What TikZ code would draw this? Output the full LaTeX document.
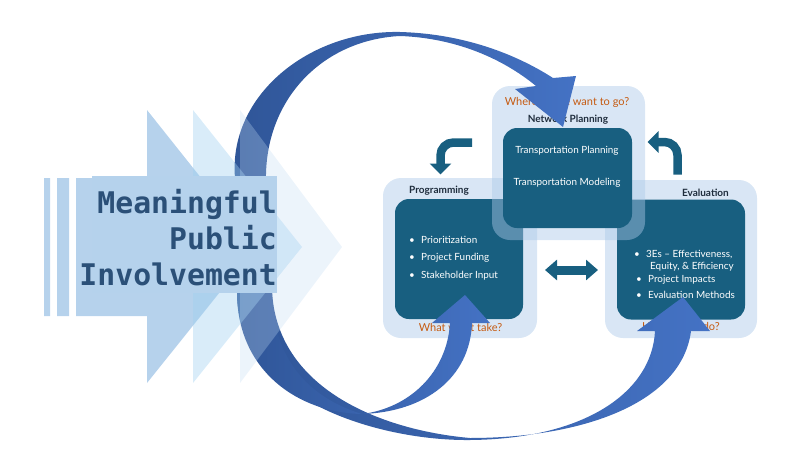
\documentclass[tikz,border=0pt]{standalone}
\usepackage{fontspec}
\setmainfont{Lato}
\newfontfamily\monofont{DejaVu Sans Mono}
\usetikzlibrary{arrows.meta}
\definecolor{boxteal}{HTML}{185F80}
\definecolor{boxlight}{HTML}{ABC8E8}
\definecolor{askorange}{HTML}{C55A11}
\definecolor{headink}{HTML}{1F2D3D}
\definecolor{ribdark}{HTML}{2F5597}
\definecolor{ribblue}{HTML}{4472C4}
\definecolor{chevA}{HTML}{9DC3E6}
\definecolor{chevB}{HTML}{9FD0F0}
\definecolor{chevC}{HTML}{C0DAF2}
\definecolor{mpibg}{HTML}{B5D2EC}
\definecolor{mpiink}{HTML}{2B5078}
\newcommand{\bul}{\makebox[12pt][l]{\textbullet}}
\begin{document}
\begin{tikzpicture}[x=1pt,y=-1pt]
  \tikzstyle{every node}=[font=\fontsize{9.9}{11}\selectfont, inner sep=0pt]
  \tikzstyle{outbox}=[fill=boxlight, fill opacity=0.45, rounded corners=18pt, minimum width=154pt, minimum height=160pt]
  \tikzstyle{inbox}=[fill=boxteal, rounded corners=14pt, minimum width=128pt, minimum height=120pt]
  \tikzstyle{head}=[font=\bfseries\fontsize{10}{11}\selectfont, text=headink]
  \tikzstyle{ask}=[font=\fontsize{11}{13}\selectfont, text=askorange]
  \tikzstyle{item}=[text=white, anchor=west]
  \tikzstyle{ribbon}=[left color=ribdark, right color=ribblue]
  \tikzstyle{bent}=[draw=boxteal, line width=8.5pt, rounded corners=13pt, -{Triangle[width=21pt,length=11pt]}]
  \tikzstyle{mpi}=[font=\monofont\bfseries\fontsize{29.8}{36}\selectfont, text=mpiink, anchor=base east]
  \useasboundingbox (0,0) rectangle (800,450);

 \node[outbox] (progbg) at (460,258) {};
 \node[outbox, minimum width=152pt, minimum height=158pt] (evalbg) at (681,259) {};
 \node[inbox] (prog) at (459,259) {};
 \node[inbox] (eval) at (681,259.5) {};
 \node[outbox, minimum width=153pt, minimum height=154pt] (netbg) at (568.5,163) {};
 \node[inbox, minimum width=129pt, minimum height=100pt] (net) at (567.5,178) {};

 \node[ask] (where) at (567,102) {Where do we want to go?};
 \node[head] (nethd) at (568,120) {Network Planning};
 \node[text=white] (tplan) at (567,151) {Transportation Planning};
 \node[text=white] (tmod) at (567,183) {Transportation Modeling};

 \node[head, anchor=west] (proghd) at (409,191) {Programming};
 \node[item] (prio) at (409,240) {\bul Prioritization};
 \node[item] (fund) at (409,258) {\bul Project Funding};
 \node[item] (stake) at (409,276) {\bul Stakeholder Input};
 \node[ask] (what) at (460.5,327) {What will it take?};

 \node[head, anchor=east] (evalhd) at (729,193) {Evaluation};
 \node[item] (three) at (634,255) {\bul 3Es – Effectiveness,};
 \node[item] (equity) at (650,267) {Equity, \& Efficiency};
 \node[item] (impact) at (636,280) {\bul Project Impacts};
 \node[item] (method) at (636,295) {\bul Evaluation Methods};
 \node[ask, anchor=east] (how) at (720,326) {How did we do?};

 \coordinate (lbs) at (472,142.5);
 \coordinate (lbe) at (440.5,174.5);
 \coordinate (rbs) at (677.5,174.5);
 \coordinate (rbe) at (647.5,142);
 \coordinate (dl) at (545,270);
 \coordinate (dr) at (598,270);
 \draw[bent] (lbs) -| (lbe);
 \draw[bent] (rbs) |- (rbe);
 \draw[boxteal, line width=9pt, {Triangle[width=20pt,length=12pt]}-{Triangle[width=20pt,length=12pt]}] (dl) -- (dr);

 \shade[ribbon] (235,178) .. controls (228,95) and (310,30) .. (400,32) .. controls (470,34) and (522,58) .. (553,78) -- (576,76) -- (563,127) -- (515,89) -- (536,86) .. controls (502,58) and (455,38) .. (400,36) .. controls (322,40) and (264,100) .. (266,182) -- cycle;
 \shade[ribbon] (237,290) .. controls (235,400) and (380,441) .. (470,440) .. controls (585,439) and (652,392) .. (655,331) -- (637,331) -- (683,297) -- (710,331) -- (691,331) .. controls (682,402) and (585,438) .. (470,438) .. controls (380,430) and (276,388) .. (272,290) -- cycle;
 \shade[ribbon] (237,290) .. controls (236,372) and (300,413) .. (362,414) .. controls (425,412) and (470,378) .. (472,323) -- (490,323) -- (465,295) -- (432,323) -- (450,323) .. controls (447,372) and (410,408) .. (362,414) .. controls (310,398) and (272,360) .. (272,290) -- cycle;

 \fill[chevA, fill opacity=0.75] (44,178) rectangle (50,316) (57,178) rectangle (69,316) (76,178) -- (147,178) -- (147,110) -- (256,247) -- (147,383) -- (147,316) -- (76,316) -- cycle;
 \fill[chevB, fill opacity=0.4] (193,110) -- (302,247) -- (193,383) -- cycle;
 \fill[chevC, fill opacity=0.3] (240,110) -- (342,247) -- (240,383) -- cycle;
 \fill[mpibg] (92,176) rectangle (277,293);
 \node[mpi] (mean) at (277,213) {Meaningful};
 \node[mpi] (pub) at (277,249) {Public};
 \node[mpi] (inv) at (277,285) {Involvement};

\end{tikzpicture}
\end{document}
